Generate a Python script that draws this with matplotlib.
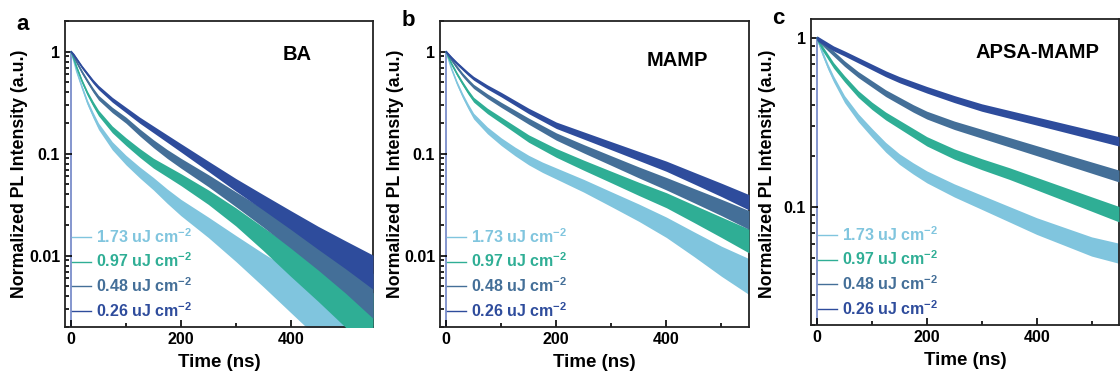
import numpy as np
import matplotlib
matplotlib.use("Agg")
import matplotlib.pyplot as plt
from matplotlib.ticker import LogLocator, FixedLocator, NullFormatter, FuncFormatter

plt.rcParams['font.family'] = ['Liberation Sans', 'DejaVu Sans']
plt.rcParams['font.weight'] = 'bold'
plt.rcParams['mathtext.fontset'] = 'custom'
plt.rcParams['mathtext.rm'] = 'Liberation Sans:bold'
plt.rcParams['mathtext.bf'] = 'Liberation Sans:bold'
plt.rcParams['mathtext.it'] = 'Liberation Sans:bold'
plt.rcParams['mathtext.default'] = 'bf'

# ---------------- data (in decades: log10 of normalized PL) ----------------
time_ns = [0, 5, 10, 20, 30, 40, 50, 75, 100, 125, 150, 175, 200, 250, 300, 350, 400, 450, 500, 550]
fluences = ["1.73", "0.97", "0.48", "0.26"]
panel_letters = ["a", "b", "c"]
panel_titles = ["BA", "MAMP", "APSA-MAMP"]

# panel a : BA
ba_173_log = [0, -0.09, -0.19, -0.35, -0.50, -0.62, -0.73, -0.92, -1.06, -1.18, -1.29, -1.41, -1.52, -1.71, -1.91, -2.11, -2.30, -2.47, -2.63, -2.78]
ba_097_log = [0, -0.07, -0.15, -0.29, -0.41, -0.51, -0.60, -0.76, -0.88, -0.99, -1.09, -1.17, -1.25, -1.42, -1.61, -1.82, -2.03, -2.22, -2.40, -2.57]
ba_048_log = [0, -0.045, -0.10, -0.20, -0.29, -0.375, -0.45, -0.57, -0.67, -0.79, -0.90, -1.00, -1.09, -1.26, -1.44, -1.62, -1.80, -1.98, -2.16, -2.34]
ba_026_log = [0, -0.03, -0.07, -0.15, -0.22, -0.29, -0.35, -0.47, -0.57, -0.67, -0.76, -0.85, -0.94, -1.12, -1.30, -1.47, -1.64, -1.81, -1.97, -2.13]

# panel b : MAMP
mamp_173_log = [0, -0.085, -0.17, -0.31, -0.43, -0.535, -0.63, -0.77, -0.88, -0.975, -1.06, -1.13, -1.19, -1.31, -1.44, -1.57, -1.71, -1.87, -2.03, -2.17]
mamp_097_log = [0, -0.06, -0.12, -0.22, -0.31, -0.395, -0.47, -0.58, -0.67, -0.76, -0.85, -0.92, -0.99, -1.11, -1.225, -1.34, -1.45, -1.58, -1.71, -1.84]
mamp_048_log = [0, -0.04, -0.08, -0.155, -0.225, -0.285, -0.34, -0.435, -0.52, -0.60, -0.68, -0.755, -0.83, -0.95, -1.065, -1.18, -1.29, -1.405, -1.52, -1.64]
mamp_026_log = [0, -0.03, -0.06, -0.115, -0.165, -0.215, -0.26, -0.345, -0.42, -0.50, -0.58, -0.65, -0.72, -0.82, -0.92, -1.02, -1.12, -1.235, -1.35, -1.47]

# panel c : APSA-MAMP
apsa_173_log = [0, -0.045, -0.09, -0.17, -0.24, -0.30, -0.36, -0.47, -0.56, -0.645, -0.715, -0.77, -0.82, -0.90, -0.97, -1.04, -1.11, -1.17, -1.23, -1.27]
apsa_097_log = [0, -0.03, -0.06, -0.11, -0.16, -0.20, -0.24, -0.33, -0.40, -0.46, -0.51, -0.56, -0.61, -0.685, -0.745, -0.80, -0.86, -0.92, -0.98, -1.04]
apsa_048_log = [0, -0.015, -0.03, -0.06, -0.09, -0.12, -0.15, -0.215, -0.27, -0.325, -0.37, -0.415, -0.455, -0.515, -0.565, -0.615, -0.665, -0.715, -0.765, -0.815]
apsa_026_log = [0, -0.01, -0.02, -0.04, -0.06, -0.075, -0.09, -0.13, -0.17, -0.21, -0.245, -0.275, -0.305, -0.36, -0.41, -0.45, -0.49, -0.53, -0.57, -0.61]

panels = [
    [ba_173_log, ba_097_log, ba_048_log, ba_026_log],
    [mamp_173_log, mamp_097_log, mamp_048_log, mamp_026_log],
    [apsa_173_log, apsa_097_log, apsa_048_log, apsa_026_log],
]
ylims = [(0.002, 2.0), (0.002, 2.0), (0.02, 1.3)]
# photon-count scale used only to draw the width of the noisy band
peak_counts = 4000

colors = ["#80c5de", "#2fae95", "#446f98", "#2e4c9c"]
rise_color = "#6f84c6"

# ---------------- figure ----------------
fig = plt.figure(figsize=(11.2, 3.78), dpi=100)
W, H = 1120, 378
boxes = [(65, 21, 373, 327), (440, 21, 749, 327), (811, 19, 1119, 325)]
letter_pos = [(23, 24), (408, 20), (778, 18)]
title_pos = [(297, 54), (677, 61), (1038, 52)]
ylabel_x = [20, 395, 767]

t = np.array(time_ns, dtype=float)

for i, (series, box) in enumerate(zip(panels, boxes)):
    l, tp, r, b = box
    ax = fig.add_axes([l / W, 1 - b / H, (r - l) / W, (b - tp) / H])
    ax.set_yscale('log')
    # instrument rise at t = 0
    ax.plot([0, 0], [1e-5, 1], color=rise_color, lw=1.2, zorder=1)
    for k, (logs, col, lab) in enumerate(zip(series, colors, fluences)):
        v = 10.0 ** np.array(logs, dtype=float)
        rel = 2.0 / np.sqrt(peak_counts * v)
        upper = v * (1 + rel)
        lower = v * np.clip(1 - rel, 0.35, None)
        ax.fill_between(t, lower, upper, color=col, lw=0, zorder=2 + k)
        ax.plot(t, v, color=col, lw=1.0, zorder=2 + k,
                label=lab + r" uJ cm$^{\mathbf{-2}}$")
    ax.set_xlim(-11, 550)
    ax.set_ylim(*ylims[i])

    ax.xaxis.set_major_locator(FixedLocator([0, 200, 400]))
    ax.xaxis.set_minor_locator(FixedLocator([100, 300, 500]))
    ax.yaxis.set_major_locator(LogLocator(base=10, numticks=10))
    ax.yaxis.set_minor_locator(LogLocator(base=10, subs=np.arange(2, 10), numticks=20))
    ax.yaxis.set_minor_formatter(NullFormatter())
    ax.yaxis.set_major_formatter(FuncFormatter(lambda y, p: ("%g" % y)))
    ax.tick_params(which='both', direction='in', top=False, right=False,
                   labelsize=11.5, width=1.2)
    ax.tick_params(which='major', length=5)
    ax.tick_params(which='minor', length=3)
    for lbl in ax.get_xticklabels() + ax.get_yticklabels():
        lbl.set_fontweight('bold')
    for s in ax.spines.values():
        s.set_linewidth(1.3)
        s.set_color('#222222')

    ax.set_xlabel("Time (ns)", fontsize=13.5, fontweight='bold', labelpad=5)
    fig.text(ylabel_x[i] / W, 1 - 174 / H, "Normalized PL Intensity (a.u.)",
             rotation=90, ha='center', va='center', fontsize=12.8, fontweight='bold')

    leg = ax.legend(loc='lower left', frameon=False, handlelength=1.2,
                    handletextpad=0.3, labelspacing=0.38, borderaxespad=0.25,
                    borderpad=0.2,
                    prop={'weight': 'bold', 'size': 11.5}, labelcolor='linecolor')
    fig.text(title_pos[i][0] / W, 1 - title_pos[i][1] / H, panel_titles[i],
             ha='center', va='center', fontsize=14.5, fontweight='bold')
    fig.text(letter_pos[i][0] / W, 1 - letter_pos[i][1] / H, panel_letters[i],
             ha='center', va='center', fontsize=16, fontweight='bold')

fig.savefig("out.png", dpi=100)
